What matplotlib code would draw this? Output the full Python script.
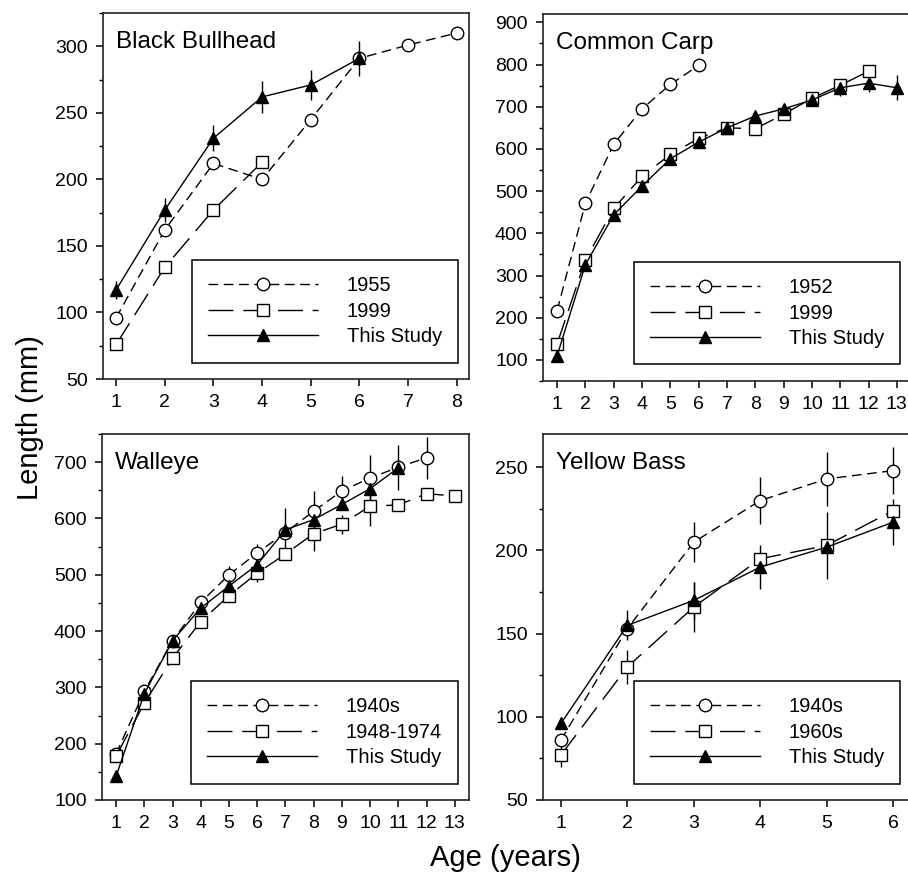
# Fish length-at-age, four species

import matplotlib.pyplot as plt
import numpy as np

plt.rcParams['font.family'] = ['Liberation Sans', 'DejaVu Sans']

# Black Bullhead
BB_AGE = [1, 2, 3, 4, 5, 6, 7, 8]
BB_1955 = [96, 162, 212, 200, 245, 291, 301, 310]
BB_1999 = [76, 134, 177, 213]
BB_THIS = [117, 177, 231, 262, 271, 291]
BB_THIS_ERR = [7, 9, 10, 12, 11, 13]

# Common Carp
CC_AGE = [1, 2, 3, 4, 5, 6, 7, 8, 9, 10, 11, 12, 13]
CC_1952 = [217, 472, 611, 695, 753, 798]
CC_1999 = [138, 337, 459, 535, 587, 625, 650, 648, 682, 720, 751, 784]
CC_THIS = [110, 326, 444, 512, 577, 616, 650, 678, 695, 716, 745, 756, 745]
CC_THIS_ERR = [0, 0, 0, 0, 0, 0, 0, 0, 8, 15, 20, 21, 30]

# Walleye
WE_AGE = [1, 2, 3, 4, 5, 6, 7, 8, 9, 10, 11, 12, 13]
WE_1940 = [182, 293, 383, 451, 500, 539, 575, 613, 649, 672, 691, 708]
WE_1940_ERR = [0, 0, 0, 0, 15, 15, 0, 36, 27, 40, 0, 37]
WE_1948 = [178, 272, 352, 417, 463, 503, 537, 573, 590, 622, 624, 644, 640]
WE_1948_ERR = [0, 0, 0, 0, 0, 15, 0, 30, 17, 36, 0, 0, 0]
WE_THIS = [142, 289, 383, 441, 480, 518, 580, 598, 625, 653, 690]
WE_THIS_ERR = [0, 0, 0, 0, 0, 0, 38, 0, 0, 0, 40]

# Yellow Bass
YB_AGE = [1, 2, 3, 4, 5, 6]
YB_1940 = [86, 153, 205, 230, 243, 248]
YB_1940_ERR = [0, 0, 12, 14, 16, 14]
YB_1960 = [77, 130, 166, 195, 203, 224]
YB_1960_ERR = [7, 10, 15, 0, 20, 0]
YB_THIS = [96, 155, 170, 190, 202, 217]
YB_THIS_ERR = [0, 9, 11, 13, 0, 14]

DASH_OLD = (0, (7, 4))
DASH_MID = (0, (18, 7))


def doSeries(ax, age, vals, err, marker, ls, face, label, ms):
    x = np.array(age[:len(vals)])
    y = np.array(vals)
    if err is not None:
        ax.errorbar(x, y, yerr=np.array(err), fmt='none', ecolor='k',
                    elinewidth=1.0, capsize=0, zorder=2)
    ax.plot(x, y, linestyle=ls, color='k', linewidth=1.0, marker=marker,
            markersize=ms, markerfacecolor=face, markeredgecolor='k',
            markeredgewidth=1.0, label=label, zorder=3)


def doPanel(fig, rect, title, xlim, xticks, ylim, yticks, minor, series):
    ax = fig.add_axes(rect)
    for s in series:
        doSeries(ax, *s)
    ax.set_xlim(xlim)
    ax.set_ylim(ylim)
    ax.set_xticks(xticks)
    ax.set_yticks(yticks)
    ax.set_yticks(np.arange(ylim[0], ylim[1] + 1, minor), minor=True)
    ax.tick_params(axis='both', which='major', direction='out', length=5,
                   width=1.1, labelsize=14, pad=6)
    ax.tick_params(axis='y', which='minor', direction='out', length=3, width=1.0)
    ax.tick_params(axis='x', which='minor', bottom=False)
    for sp in ax.spines.values():
        sp.set_linewidth(1.2)
        sp.set_color('#222222')
    ax.text(0.035, 0.905, title, transform=ax.transAxes, fontsize=17.5,
            va='baseline', ha='left')
    leg = ax.legend(loc='lower right', bbox_to_anchor=(0.97, 0.045),
                    fontsize=14.5, frameon=True, fancybox=False,
                    edgecolor='k', framealpha=1, handlelength=5.5,
                    handletextpad=1.4, labelspacing=0.33, borderpad=0.8,
                    borderaxespad=0)
    leg.get_frame().set_linewidth(1.1)
    return ax


def main():
    fig = plt.figure(figsize=(9.08, 8.77), dpi=100)

    doPanel(fig, [0.1134, 0.5678, 0.4031, 0.4173], 'Black Bullhead',
            (0.73, 8.25), BB_AGE, (50, 325), np.arange(50, 301, 50), 25,
            [(BB_AGE, BB_1955, None, 'o', DASH_OLD, 'white', '1955', 9),
             (BB_AGE, BB_1999, None, 's', DASH_MID, 'white', '1999', 8),
             (BB_AGE, BB_THIS, BB_THIS_ERR, '^', '-', 'black', 'This Study', 9)])

    doPanel(fig, [0.598, 0.5656, 0.4053, 0.4185], 'Common Carp',
            (0.5, 13.5), CC_AGE, (50, 920), np.arange(100, 901, 100), 50,
            [(CC_AGE, CC_1952, None, 'o', DASH_OLD, 'white', '1952', 9),
             (CC_AGE, CC_1999, None, 's', DASH_MID, 'white', '1999', 8),
             (CC_AGE, CC_THIS, CC_THIS_ERR, '^', '-', 'black', 'This Study', 9)])

    doPanel(fig, [0.1123, 0.0878, 0.4042, 0.4173], 'Walleye',
            (0.5, 13.5), WE_AGE, (100, 750), np.arange(100, 701, 100), 50,
            [(WE_AGE, WE_1940, WE_1940_ERR, 'o', DASH_OLD, 'white', '1940s', 9),
             (WE_AGE, WE_1948, WE_1948_ERR, 's', DASH_MID, 'white', '1948-1974', 8),
             (WE_AGE, WE_THIS, WE_THIS_ERR, '^', '-', 'black', 'This Study', 9)])

    doPanel(fig, [0.598, 0.0878, 0.4053, 0.4173], 'Yellow Bass',
            (0.73, 6.27), YB_AGE, (50, 270), np.arange(50, 251, 50), 25,
            [(YB_AGE, YB_1940, YB_1940_ERR, 'o', DASH_OLD, 'white', '1940s', 9),
             (YB_AGE, YB_1960, YB_1960_ERR, 's', DASH_MID, 'white', '1960s', 8),
             (YB_AGE, YB_THIS, YB_THIS_ERR, '^', '-', 'black', 'This Study', 9)])

    fig.text(30 / 908, 1 - 418 / 877, 'Length (mm)', rotation=90,
             fontsize=21, ha='center', va='center')
    fig.text(505 / 908, 1 - 858 / 877, 'Age (years)', fontsize=21,
             ha='center', va='center')

    fig.savefig('out.png', dpi=100)


if __name__ == '__main__':
    main()
